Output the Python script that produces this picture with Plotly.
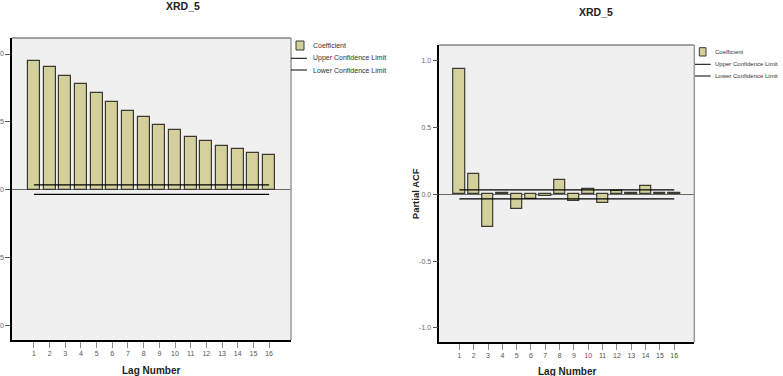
import plotly.graph_objects as go

# ---------------- data ----------------
lags = list(range(1, 17))
lag_labels = [str(v) for v in lags]
acf_coef = [0.945, 0.905, 0.839, 0.780, 0.711, 0.647, 0.581, 0.534,
            0.477, 0.440, 0.391, 0.357, 0.320, 0.298, 0.273, 0.258]
acf_upper = [0.035, 0.035, 0.035, 0.035, 0.035, 0.035, 0.035, 0.035,
             0.035, 0.035, 0.035, 0.035, 0.035, 0.035, 0.035, 0.035]
acf_lower = [-0.034, -0.034, -0.034, -0.034, -0.034, -0.034, -0.034, -0.034,
             -0.034, -0.034, -0.034, -0.034, -0.034, -0.034, -0.034, -0.034]
pacf_coef = [0.941, 0.153, -0.242, 0.008, -0.107, -0.035, -0.012, 0.110,
             -0.052, 0.040, -0.067, 0.028, 0.013, 0.060, 0.010, 0.010]
pacf_upper = [0.034, 0.034, 0.034, 0.034, 0.034, 0.034, 0.034, 0.034,
              0.034, 0.034, 0.034, 0.034, 0.034, 0.034, 0.034, 0.034]
pacf_lower = [-0.034, -0.034, -0.034, -0.034, -0.034, -0.034, -0.034, -0.034,
              -0.034, -0.034, -0.034, -0.034, -0.034, -0.034, -0.034, -0.034]
y_ticks = [-1.0, -0.5, 0.0, 0.5, 1.0]
y_tick_labels = ["-1.0", "-0.5", "0.0", "0.5", "1.0"]
title_text = "XRD_5"
legend_names = ["Coefficient", "Upper Confidence Limit", "Lower Confidence Limit"]

# ---------------- style ----------------
W, H = 783, 376
FONT = "Liberation Sans, Arial, sans-serif"
BAR_FILL = "#d4d09c"
BAR_LINE = "#3a3a32"
BG = "#f0f0f0"


def px(x):
    return x / W


def py(y):
    return 1 - y / H


fig = go.Figure()

fig.add_trace(go.Bar(x=lags, y=acf_coef, width=0.77, marker=dict(color=BAR_FILL, line=dict(color=BAR_LINE, width=1.2)),
                     xaxis="x", yaxis="y", name=legend_names[0], showlegend=False))
fig.add_trace(go.Scatter(x=lags, y=acf_upper, mode="lines", line=dict(color="black", width=1.2),
                         xaxis="x", yaxis="y", name=legend_names[1], showlegend=False))
fig.add_trace(go.Scatter(x=lags, y=acf_lower, mode="lines", line=dict(color="black", width=1.2),
                         xaxis="x", yaxis="y", name=legend_names[2], showlegend=False))

fig.add_trace(go.Bar(x=lags, y=pacf_coef, width=0.8, marker=dict(color=BAR_FILL, line=dict(color=BAR_LINE, width=1.2)),
                     xaxis="x2", yaxis="y2", name=legend_names[0], showlegend=False))
fig.add_trace(go.Scatter(x=lags, y=pacf_upper, mode="lines", line=dict(color="black", width=1.2),
                         xaxis="x2", yaxis="y2", name=legend_names[1], showlegend=False))
fig.add_trace(go.Scatter(x=lags, y=pacf_lower, mode="lines", line=dict(color="black", width=1.2),
                         xaxis="x2", yaxis="y2", name=legend_names[2], showlegend=False))

xcommon = dict(range=[-0.4, 17.4], tickmode="array", tickvals=lags, ticktext=lag_labels,
               ticks="outside", ticklen=6, tickwidth=1, tickcolor="#8a8a8a",
               tickfont=dict(family=FONT, size=7, color="#555555"),
               showline=True, linecolor="black", linewidth=1.5, showgrid=False,
               zeroline=False, automargin=False, fixedrange=True)
ycommon = dict(range=[-1.108, 1.118], tickmode="array", tickvals=y_ticks, ticktext=y_tick_labels,
               ticks="outside", ticklen=5, tickwidth=1, tickcolor="#555555",
               tickfont=dict(family=FONT, size=7, color="#666666"),
               showline=True, linecolor="black", linewidth=1.5, showgrid=False,
               zeroline=True, zerolinecolor="#6a6a6a", zerolinewidth=1.2,
               automargin=False, fixedrange=True)

fig.update_layout(
    width=W, height=H, margin=dict(l=0, r=0, t=0, b=0),
    template="none", paper_bgcolor="white", plot_bgcolor=BG,
    showlegend=False, bargap=0,
    font=dict(family=FONT, size=7, color="#333333"),
    xaxis=dict(domain=[px(12), px(291)], anchor="y", **xcommon),
    yaxis=dict(domain=[py(340), py(38)], anchor="x", **ycommon),
    xaxis2=dict(domain=[px(439.3), px(694.3)], anchor="y2", **xcommon),
    yaxis2=dict(domain=[py(342.3), py(45)], anchor="x2", **ycommon),
)

shapes = []
# top / right frame lines
for xa, ya in (("x", "y"), ("x2", "y2")):
    shapes.append(dict(type="line", xref=f"{xa} domain", yref=f"{ya} domain", x0=0, x1=1, y0=1, y1=1,
                       line=dict(color="#4a4a4a", width=1)))
    shapes.append(dict(type="line", xref=f"{xa} domain", yref=f"{ya} domain", x0=1, x1=1, y0=0, y1=1,
                       line=dict(color="#9a9a9a", width=1.5)))

annotations = []


def add_legend(sw_x0, sw_x1, sw_y0, sw_y1, line_x0, line_x1, y_up, y_lo, text_x, fsize):
    shapes.append(dict(type="rect", xref="paper", yref="paper",
                       x0=px(sw_x0), x1=px(sw_x1), y0=py(sw_y1), y1=py(sw_y0),
                       fillcolor=BAR_FILL, line=dict(color=BAR_LINE, width=1)))
    for yy in (y_up, y_lo):
        shapes.append(dict(type="line", xref="paper", yref="paper",
                           x0=px(line_x0), x1=px(line_x1), y0=py(yy), y1=py(yy),
                           line=dict(color="black", width=1)))
    for name, yy in zip(legend_names, ((sw_y0 + sw_y1) / 2, y_up, y_lo)):
        annotations.append(dict(text=name, xref="paper", yref="paper", x=px(text_x), y=py(yy),
                                xanchor="left", yanchor="middle", showarrow=False,
                                font=dict(family=FONT, size=fsize, color="#333333")))


add_legend(296, 304, 41, 50, 291, 307, 58.3, 70.0, 310.5, 7)
add_legend(699.3, 706, 47.7, 56, 695, 710.7, 64.3, 76.0, 713, 6)

# titles
annotations.append(dict(text="<b>" + title_text + "</b>", xref="paper", yref="paper", x=px(182.7), y=py(6),
                        xanchor="center", yanchor="middle", showarrow=False,
                        font=dict(family=FONT, size=10.5, color="#222222")))
annotations.append(dict(text="<b>" + title_text + "</b>", xref="paper", yref="paper", x=px(595.7), y=py(12.5),
                        xanchor="center", yanchor="middle", showarrow=False,
                        font=dict(family=FONT, size=10.5, color="#222222")))
# axis titles
annotations.append(dict(text="<b>Lag Number</b>", xref="paper", yref="paper", x=px(151), y=py(370),
                        xanchor="center", yanchor="middle", showarrow=False,
                        font=dict(family=FONT, size=10, color="#222222")))
annotations.append(dict(text="<b>Lag Number</b>", xref="paper", yref="paper", x=px(567), y=py(371.5),
                        xanchor="center", yanchor="middle", showarrow=False,
                        font=dict(family=FONT, size=10, color="#222222")))
annotations.append(dict(text="<b>Partial ACF</b>", xref="paper", yref="paper", x=px(415.5), y=py(193.7),
                        xanchor="center", yanchor="middle", showarrow=False, textangle=-90,
                        font=dict(family=FONT, size=9.5, color="#222222")))

fig.update_layout(shapes=shapes, annotations=annotations)

fig.write_html("out.html")
